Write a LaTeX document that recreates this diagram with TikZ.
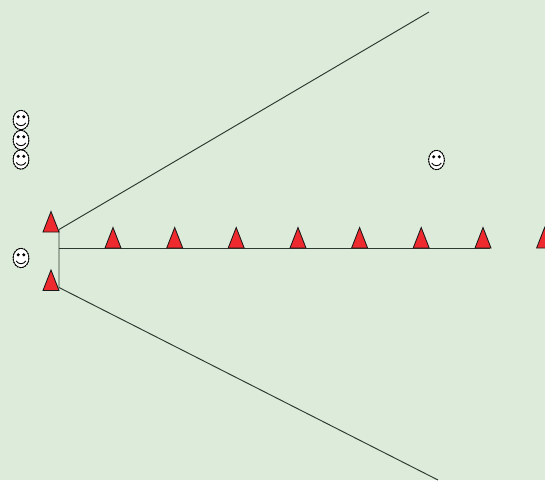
\documentclass[tikz,border=0pt]{standalone}
\definecolor{bgc}{HTML}{DDEBDA}
\definecolor{conec}{HTML}{2A3A2E}
\definecolor{conered}{HTML}{EE2A2F}
\tikzset{
  x=1pt,y=-1pt,
  connector/.style={draw=conec,line width=0.95pt},
  conemark/.pic={\path[fill=conered,draw=black!90,line width=0.85pt,line join=miter] (-8,0)--(0,-20.5)--(8,0)--cycle;},
  facemark/.pic={
    \path[fill=white,draw=black,line width=0.6pt] (0,0) ellipse[x radius=7.8,y radius=9.6];
    \path[draw=black,line width=0.9pt,dash pattern=on 1.6pt off 1.2pt] (0,0) ellipse[x radius=8,y radius=9.8];
    \path[fill=black] (-2.8,-3.2) circle[radius=1.7] (2.8,-3.2) circle[radius=1.7];
    \path[draw=black,line width=0.9pt] (-4.8,3) .. controls (-2.5,6.6) and (2.5,6.6) .. (4.8,3);
  }
}
\begin{document}
\begin{tikzpicture}
\useasboundingbox[fill=bgc] (0,0) rectangle (545,480);
\coordinate (topend) at (429,12);
\coordinate (botend) at (438,480);
\coordinate (vtop) at (59,229.5);
\coordinate (vbot) at (59,287.5);
\coordinate (hstart) at (59,248);
\coordinate (hend) at (490,248);
\draw[connector] (topend) -- (vtop) -- (vbot) -- (botend);
\draw[connector] (hstart) -- (hend);
\pic (ca) at (51,232) {conemark};
\pic (cb) at (51,290.5) {conemark};
\pic (c1) at (113,248) {conemark};
\pic (c2) at (174.7,248) {conemark};
\pic (c3) at (236.2,248) {conemark};
\pic (c4) at (298,248) {conemark};
\pic (c5) at (359.6,248) {conemark};
\pic (c6) at (421.2,248) {conemark};
\pic (c7) at (483,248) {conemark};
\pic (c8) at (544.6,248) {conemark};
\pic (f1) at (21,120) {facemark};
\pic (f2) at (21,140) {facemark};
\pic (f3) at (21,159.5) {facemark};
\pic (f4) at (21,258) {facemark};
\pic (f5) at (436.5,160) {facemark};
\end{tikzpicture}
\end{document}
